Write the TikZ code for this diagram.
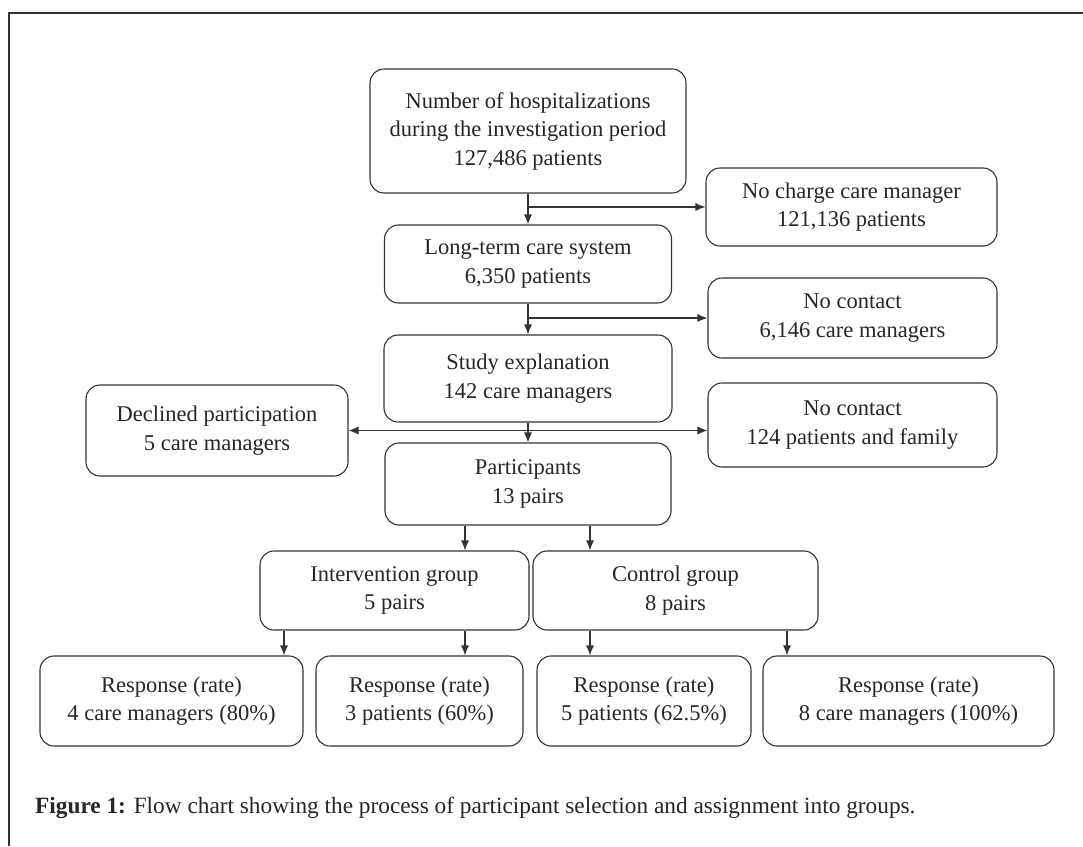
\documentclass[tikz,border=0pt]{standalone}
\usepackage{fontspec}
\setmainfont{Liberation Serif}
\usetikzlibrary{arrows.meta}
\begin{document}
\begin{tikzpicture}[x=1pt,y=-1pt,
box/.style={%
draw=black!80,
line width=1.1pt,
rounded corners=14pt,
align=center,
inner sep=0pt,
text=black!85,
font=\fontsize{22.5}{28.5}\selectfont
},
arr/.style={%
draw=black!80,
line width=1.1pt,
-{Latex[length=10pt,width=8pt]}
}
]
\useasboundingbox(0,0)rectangle(1083,846);
%% Frame
\draw[black!80,line width=1.4pt](1083,13)--(9,13)--(9,846);
%% Selection
\node[box,minimum width=316,minimum height=124]at(528,131)(hosp){Number of hospitalizations\\during the investigation period\\127,486 patients};
\node[box,minimum width=291,minimum height=78]at(851.5,207)(nocharge){No charge care manager\\121,136 patients};
\node[box,minimum width=287,minimum height=78]at(528,264)(care){Long-term care system\\6,350 patients};
\node[box,minimum width=289,minimum height=80]at(852.5,318)(nocontact){No contact\\6,146 care managers};
\node[box,minimum width=288,minimum height=87]at(528,378.5)(study){Study explanation\\142 care managers};
\node[box,minimum width=262,minimum height=91]at(217,430.5)(declined){Declined participation\\5 care managers};
\node[box,minimum width=289,minimum height=84]at(852.5,425)(nocontactb){No contact\\124 patients and family};
\node[box,minimum width=286,minimum height=82]at(528,484)(part){Participants\\13 pairs};
\draw[arr](hosp)--(care);
\draw[arr](hosp.south|-nocharge)--(nocharge.west);
\draw[arr](care)--(study);
\draw[arr](care.south|-nocontact)--(nocontact.west);
\draw[arr](study)--(part);
\draw[arr,{Latex[length=10pt,width=8pt]}-{Latex[length=10pt,width=8pt]}](declined.east)--(declined.east-|nocontactb.west);
%% Groups
\node[box,minimum width=269,minimum height=79]at(394.5,590.5)(interv){Intervention group\\5 pairs};
\node[box,minimum width=285,minimum height=79]at(675.5,590.5)(ctrl){Control group\\8 pairs};
\coordinate(gl)at(465,0);
\coordinate(gr)at(590,0);
\draw[arr](part.south-|gl)--(interv.north-|gl);
\draw[arr](part.south-|gr)--(ctrl.north-|gr);
%% Responses
\node[box,minimum width=263,minimum height=90]at(171.5,701)(r1){Response (rate)\\4 care managers (80\%)};
\node[box,minimum width=207,minimum height=90]at(419.5,701)(r2){Response (rate)\\3 patients (60\%)};
\node[box,minimum width=214,minimum height=90]at(644,701)(r3){Response (rate)\\5 patients (62.5\%)};
\node[box,minimum width=291,minimum height=90]at(908.5,701)(r4){Response (rate)\\8 care managers (100\%)};
\coordinate(ra)at(284,0);
\coordinate(rd)at(787,0);
\draw[arr](interv.south-|ra)--(r1.north-|ra);
\draw[arr](interv.south-|gl)--(r2.north-|gl);
\draw[arr](ctrl.south-|gr)--(r3.north-|gr);
\draw[arr](ctrl.south-|rd)--(r4.north-|rd);
%% Caption
\node[anchor=west,inner sep=0pt,text=black!85,font=\fontsize{23.3}{27}\selectfont]at(35,808)(cap){\textbf{Figure 1:} Flow chart showing the process of participant selection and assignment into groups.};
\end{tikzpicture}
\end{document}
